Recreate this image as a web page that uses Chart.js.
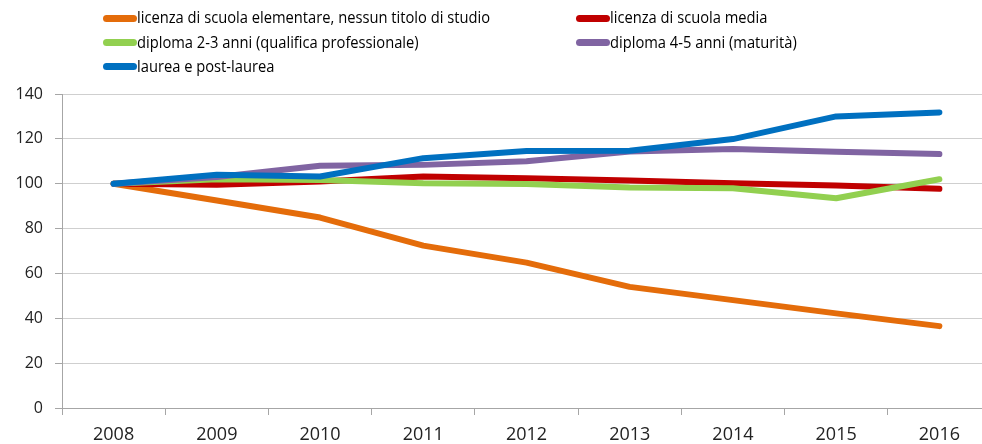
<!DOCTYPE html>
<html>
<head>
<meta charset="utf-8">
<script src="https://cdn.jsdelivr.net/npm/chart.js@4"></script>
<style>
  html, body { margin: 0; padding: 0; background: #fff; overflow: hidden; }
  #wrap { position: relative; width: 982px; height: 444px; overflow: hidden; }
  #c { position: absolute; left: 0; top: 0; }
  .sw { position: absolute; width: 34px; height: 7px; border-radius: 3.5px; }
  .lt { position: absolute; font-family: "Open Sans", sans-serif; font-size: 16px; color: #000; white-space: nowrap; line-height: 18px; transform-origin: 0 0; }
</style>
</head>
<body>
<div id="wrap">
  <canvas id="c" width="991" height="444" style="width:991px;height:444px"></canvas>
  <div id="legend"></div>
</div>
<script>
const years = ["2008","2009","2010","2011","2012","2013","2014","2015","2016"];
const labels = [
  "licenza di scuola elementare, nessun titolo di studio",
  "licenza di scuola media",
  "diploma 2-3 anni (qualifica professionale)",
  "diploma 4-5 anni (maturità)",
  "laurea e post-laurea"
];
const elementare = [100, 92.5, 84.9, 72.4, 64.8, 54.0, 48.1, 42.2, 36.5];
const media      = [100, 99.5, 101.0, 103.2, 102.4, 101.4, 100.2, 99.2, 97.7];
const qualifica  = [100, 102.0, 101.7, 100.2, 99.9, 98.3, 98.0, 93.5, 102.0];
const maturita   = [100, 103.0, 108.0, 108.4, 110.0, 114.4, 115.5, 114.3, 113.2];
const laurea     = [100, 104.0, 103.2, 111.4, 114.6, 114.7, 119.9, 130.0, 131.8];
const colors = ["#E46C0A", "#C00000", "#92D050", "#8064A2", "#0070C0"];

const series = [elementare, media, qualifica, maturita, laurea];

// legend: two columns, swatch left/center-y
const legPos = [[103, 18.3], [576, 18.3], [103, 42.7], [576, 42.7], [103, 66.7]];
const ctx = document.createElement("canvas").getContext("2d");
ctx.font = "16px 'Open Sans'";
const squeeze = 353 / ctx.measureText(labels[0]).width;
const legend = document.getElementById("legend");
labels.forEach((l, i) => {
  const sw = document.createElement("div");
  sw.className = "sw";
  sw.style.left = legPos[i][0] + "px";
  sw.style.top = (legPos[i][1] - 3.5) + "px";
  sw.style.background = colors[i];
  legend.appendChild(sw);
  const t = document.createElement("div");
  t.className = "lt";
  t.textContent = l;
  t.style.left = (legPos[i][0] + 34) + "px";
  t.style.top = (legPos[i][1] - 10.2) + "px";
  t.style.transform = "scaleX(" + squeeze + ")";
  legend.appendChild(t);
});

new Chart(document.getElementById("c"), {
  type: "line",
  data: {
    labels: years,
    datasets: series.map((s, i) => ({
      label: labels[i],
      data: s,
      borderColor: colors[i],
      backgroundColor: colors[i],
      borderWidth: 6,
      pointRadius: 0,
      tension: 0,
      borderCapStyle: "round",
      borderJoinStyle: "round",
      order: series.length - i
    }))
  },
  options: {
    responsive: false,
    animation: false,
    layout: { padding: { top: 94, right: 0, left: 0, bottom: 0 } },
    plugins: { legend: { display: false }, tooltip: { enabled: false } },
    scales: {
      x: {
        offset: true,
        grid: { offset: true, drawOnChartArea: false, drawTicks: true, tickLength: 7, tickColor: "#a6a6a6" },
        border: { color: "#a6a6a6", width: 1 },
        ticks: { color: "#222", padding: 9, font: { family: "Open Sans", size: 18 } },
        afterFit: s => { s.height = 36; }
      },
      y: {
        min: 0,
        max: 140,
        ticks: { stepSize: 20, color: "#222", padding: 12, font: { family: "Open Sans", size: 16 } },
        grid: { color: "#cfcfcf", tickLength: 7, tickColor: "#a6a6a6" },
        border: { color: "#a6a6a6", width: 1 },
        afterFit: s => { s.width = 62; }
      }
    }
  }
});
</script>
</body>
</html>
